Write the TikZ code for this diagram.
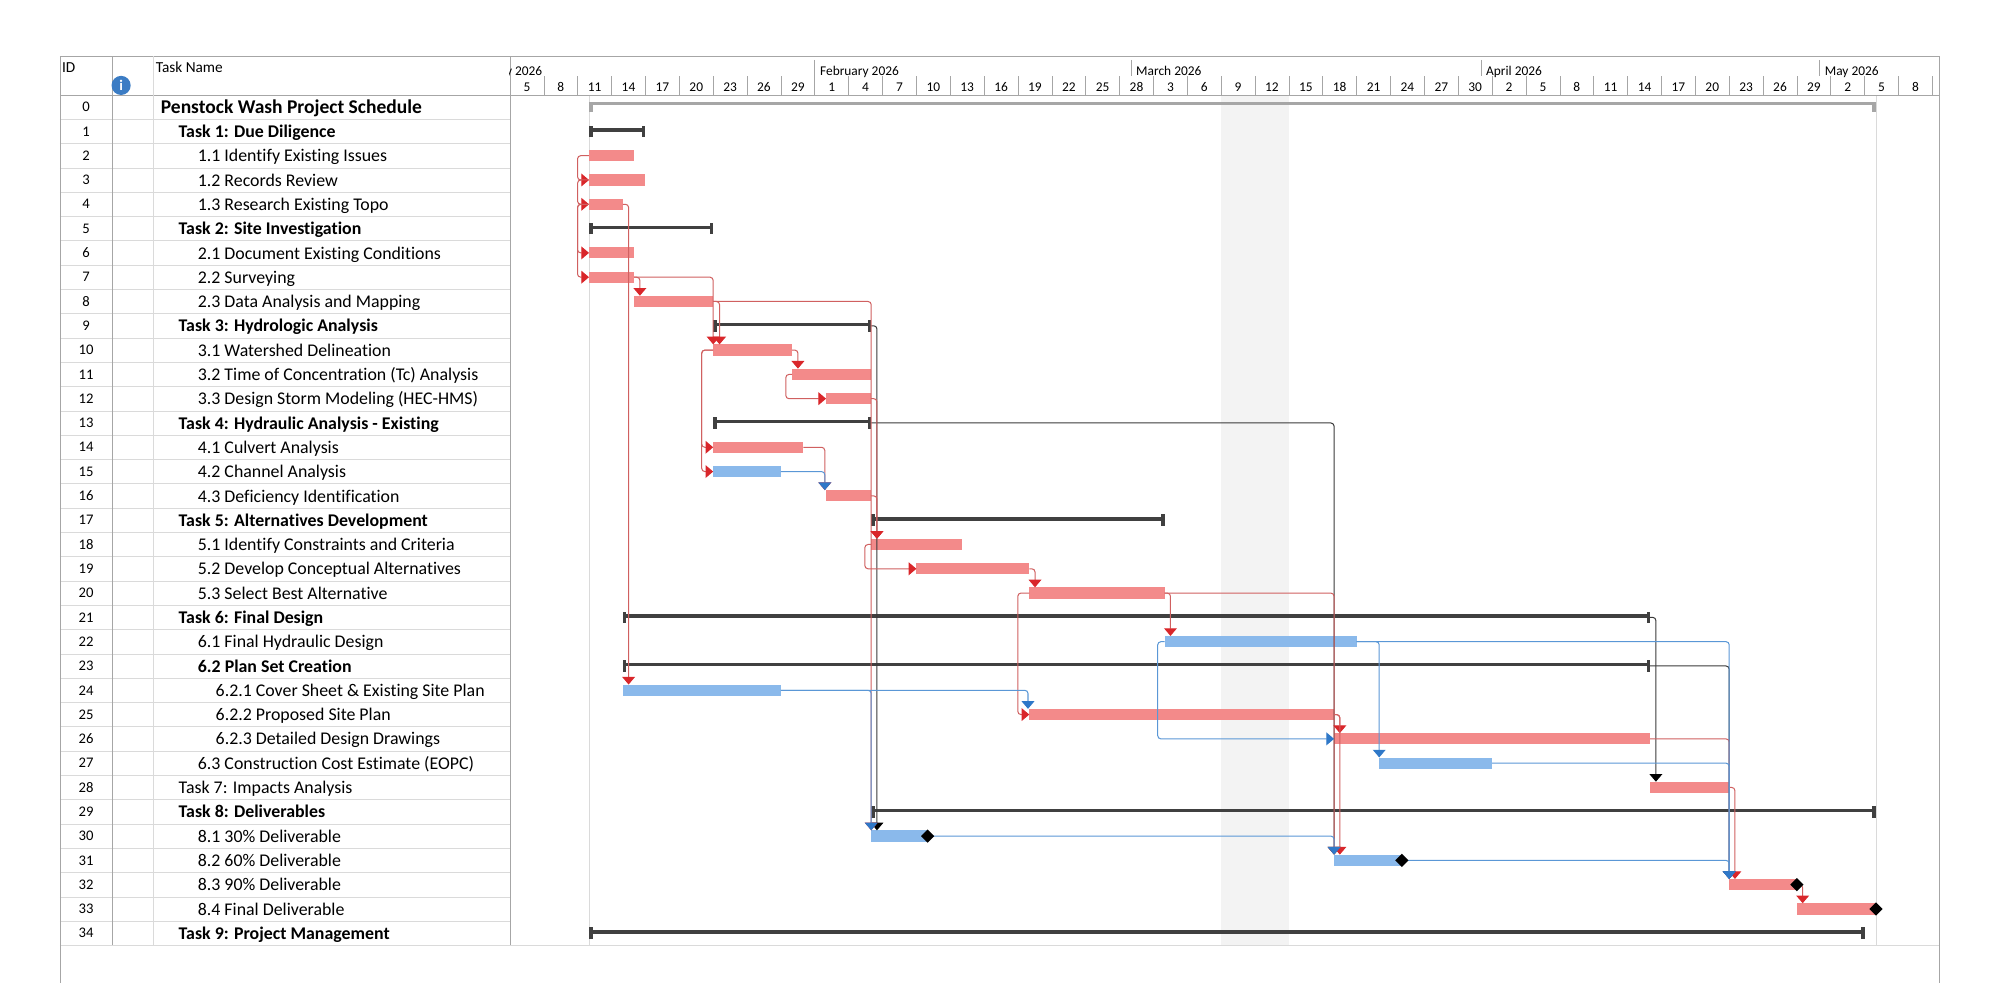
\documentclass[tikz,border=0pt]{standalone}
\usepackage{fontspec}
\setmainfont{Carlito}[Ligatures=NoCommon]
\usetikzlibrary{calc,arrows.meta}

\definecolor{barred}{HTML}{F38A8A}
\definecolor{barblue}{HTML}{8AB9EB}
\definecolor{sumgray}{HTML}{404040}
\definecolor{projgray}{HTML}{A6A6A6}
\definecolor{linkred}{HTML}{D06060}
\definecolor{tipred}{HTML}{D9262A}
\definecolor{linkblue}{HTML}{5A97D6}
\definecolor{tipblue}{HTML}{2F78C8}
\definecolor{linkblack}{HTML}{3A3A3A}
\definecolor{gridgray}{HTML}{DADADA}
\definecolor{framegray}{HTML}{A6A6A6}
\definecolor{offday}{HTML}{F3F3F3}
\definecolor{infoblue}{HTML}{3B7CC4}

\newcommand\gtask{\fontsize{14}{16}\selectfont}
\newcommand\gsum{\fontsize{14}{16}\selectfont\bfseries}
\newcommand\gproj{\fontsize{15.3}{17}\selectfont\bfseries}
\newcommand\ghead{\fontsize{12}{14}\selectfont}
\newcommand\gscale{\fontsize{10.5}{12}\selectfont}
\newcommand\gid{\fontsize{11.5}{13}\selectfont}

% bars: row, start day, end day (day 0 = Jan 12)
\newcommand{\taskbar}[4]{%
  \coordinate (s#1) at ({462+8.855*#2},{84+19.06*#1});
  \coordinate (e#1) at ({462+8.855*#3},{84+19.06*#1});
  \fill[#4] ($(s#1)+(0,-4.4)$) rectangle ($(e#1)+(0,4.4)$);
}
\newcommand{\sumbar}[3]{%
  \coordinate (s#1) at ({462+8.855*#2},{84+19.06*#1});
  \coordinate (e#1) at ({462+8.855*#3},{84+19.06*#1});
  \draw[sumgray, line width=2.8pt] ($(s#1)+(0,-1)$) -- ($(e#1)+(0,-1)$);
  \fill[sumgray] ($(s#1)+(0,-4.6)$) rectangle ($(s#1)+(2.8,4.6)$);
  \fill[sumgray] ($(e#1)+(-2.8,-4.6)$) rectangle ($(e#1)+(0,4.6)$);
}
\newcommand{\mstone}[1]{%
  \fill[black] ($(e#1)+(-5.2,0)$) -- ($(e#1)+(0,-5.2)$) -- ($(e#1)+(5.2,0)$) -- ($(e#1)+(0,5.2)$) -- cycle;
}

\begin{document}
\begin{tikzpicture}[x=1pt,y=-1pt,
    link/.style={line width=0.8pt, rounded corners=2.5pt},
    redlink/.style={link, draw=linkred, -{Triangle[length=6pt,width=10pt,color=tipred]}},
    bluelink/.style={link, draw=linkblue, -{Triangle[length=6pt,width=10pt,color=tipblue]}},
    blacklink/.style={link, draw=linkblack, -{Triangle[length=6pt,width=10pt,color=black]}},
    idlab/.style={font=\gid, inner sep=0},
    namelab/.style={anchor=base west, inner sep=0},
    hdrlab/.style={font=\ghead, anchor=base west, inner sep=0},
    daylab/.style={font=\gscale, anchor=base, inner sep=0},
    monlab/.style={font=\gscale, anchor=base west, inner sep=0},
    hdrline/.style={framegray, line width=0.5pt}]

\useasboundingbox (0,0) rectangle (1568,771);

% chart background
\fill[offday] ({462+8.855*56},75) rectangle ({462+8.855*62},742);
\draw[gridgray, line width=0.7pt] (462,75) -- (462,742);
\draw[gridgray, line width=0.7pt] ({462+8.855*114},75) -- ({462+8.855*114},742);

% table grid
\foreach \i in {1,...,34}
  \draw[gridgray, line width=0.5pt] (47,{74.5+19.06*\i}) -- (400,{74.5+19.06*\i});
\draw[gridgray, line width=0.5pt] (47,741.6) -- (1521,741.6);
\draw[hdrline] (47,75) -- (1521,75);
\draw[hdrline] (47,44) -- (1521,44);
\draw[hdrline] (47,44) -- (47,771);
\draw[hdrline] (1521,44) -- (1521,771);
\draw[hdrline] (88,44) -- (88,741.6);
\draw[gridgray, line width=0.5pt] (120,44) -- (120,741.6);
\draw[hdrline] (400,44) -- (400,741.6);

% table header
\node[hdrlab] (hid) at (48.5,57) {ID};
\node[hdrlab] (hname) at (122,57) {Task Name};
\node[circle, fill=infoblue, minimum size=15pt, inner sep=0, text=white,
      font=\fontsize{11.5}{11.5}\selectfont\bfseries] (info) at (95,67) {i};

% timescale
\begin{scope}
  \clip (400,44) rectangle (1521,75);
  \foreach \lab [count=\k from 0] in {5,8,11,14,17,20,23,26,29,1,4,7,10,13,16,19,22,25,28,3,6,9,12,15,18,21,24,27,30,2,5,8,11,14,17,20,23,26,29,2,5,8}
    \node[daylab] (d\k) at ({413.3+26.565*\k},72) {\lab};
  \foreach \k in {0,...,41}
    \draw[hdrline] ({426.58+26.565*\k},60) -- ++(0,15);
  \foreach \d/\mon in {-11/January 2026,20/February 2026,48/March 2026,79/April 2026,109/May 2026} {
    \draw[hdrline] ({462+8.855*\d},47) -- ({462+8.855*\d},60);
    \node[monlab] at ({462+8.855*\d+4},59) {\mon};
  }
\end{scope}

% task names
\foreach \r/\ind/\fnt/\txt in {
  0/126/\gproj/Penstock Wash Project Schedule,
  1/140/\gsum/Task 1: Due Diligence,
  2/155/\gtask/1.1 Identify Existing Issues,
  3/155/\gtask/1.2 Records Review,
  4/155/\gtask/1.3 Research Existing Topo,
  5/140/\gsum/Task 2: Site Investigation,
  6/155/\gtask/2.1 Document Existing Conditions,
  7/155/\gtask/2.2 Surveying,
  8/155/\gtask/2.3 Data Analysis and Mapping,
  9/140/\gsum/Task 3: Hydrologic Analysis,
  10/155/\gtask/3.1 Watershed Delineation,
  11/155/\gtask/3.2 Time of Concentration (Tc) Analysis,
  12/155/\gtask/3.3 Design Storm Modeling (HEC-HMS),
  13/140/\gsum/Task 4: Hydraulic Analysis - Existing,
  14/155/\gtask/4.1 Culvert Analysis,
  15/155/\gtask/4.2 Channel Analysis,
  16/155/\gtask/4.3 Deficiency Identification,
  17/140/\gsum/Task 5: Alternatives Development,
  18/155/\gtask/5.1 Identify Constraints and Criteria,
  19/155/\gtask/5.2 Develop Conceptual Alternatives,
  20/155/\gtask/5.3 Select Best Alternative,
  21/140/\gsum/Task 6: Final Design,
  22/155/\gtask/6.1 Final Hydraulic Design,
  23/155/\gsum/6.2 Plan Set Creation,
  24/169/\gtask/6.2.1 Cover Sheet \& Existing Site Plan,
  25/169/\gtask/6.2.2 Proposed Site Plan,
  26/169/\gtask/6.2.3 Detailed Design Drawings,
  27/155/\gtask/6.3 Construction Cost Estimate (EOPC),
  28/140/\gtask/Task 7: Impacts Analysis,
  29/140/\gsum/Task 8: Deliverables,
  30/155/\gtask/8.1 30\% Deliverable,
  31/155/\gtask/8.2 60\% Deliverable,
  32/155/\gtask/8.3 90\% Deliverable,
  33/155/\gtask/8.4 Final Deliverable,
  34/140/\gsum/Task 9: Project Management} {
  \node[idlab] (id\r) at (67.5,{84+19.06*\r}) {\r};
  \node[namelab, font=\fnt] (n\r) at (\ind,{84+19.06*\r+4.8}) {\txt};
}

% project summary
\coordinate (s0) at (462,84);
\coordinate (e0) at ({462+8.855*114},84);
\draw[projgray, line width=2.4pt] ($(s0)+(0,-2.5)$) -- ($(e0)+(0,-2.5)$);
\fill[projgray] ($(s0)+(0,-4.3)$) rectangle ($(s0)+(2.8,3.8)$);
\fill[projgray] ($(e0)+(-2.8,-4.3)$) rectangle ($(e0)+(0,3.8)$);

% bars
\sumbar{1}{0}{5}
\taskbar{2}{0}{4}{barred}
\taskbar{3}{0}{5}{barred}
\taskbar{4}{0}{3}{barred}
\sumbar{5}{0}{11}
\taskbar{6}{0}{4}{barred}
\taskbar{7}{0}{4}{barred}
\taskbar{8}{4}{11}{barred}
\sumbar{9}{11}{25}
\taskbar{10}{11}{18}{barred}
\taskbar{11}{18}{25}{barred}
\taskbar{12}{21}{25}{barred}
\sumbar{13}{11}{25}
\taskbar{14}{11}{19}{barred}
\taskbar{15}{11}{17}{barblue}
\taskbar{16}{21}{25}{barred}
\sumbar{17}{25}{51}
\taskbar{18}{25}{33}{barred}
\taskbar{19}{29}{39}{barred}
\taskbar{20}{39}{51}{barred}
\sumbar{21}{3}{94}
\taskbar{22}{51}{68}{barblue}
\sumbar{23}{3}{94}
\taskbar{24}{3}{17}{barblue}
\taskbar{25}{39}{66}{barred}
\taskbar{26}{66}{94}{barred}
\taskbar{27}{70}{80}{barblue}
\taskbar{28}{94}{101}{barred}
\sumbar{29}{25}{114}
\taskbar{30}{25}{30}{barblue}
\taskbar{31}{66}{72}{barblue}
\taskbar{32}{101}{107}{barred}
\taskbar{33}{107}{114}{barred}
\sumbar{34}{0}{113}

% links between summaries
\draw[blacklink] (e9) -| ($(s30)+(4.5,-4.5)$);
\draw[blacklink] (e13) -| ($(s31)+(0,-4.5)$);
\draw[blacklink] (e21) -| ($(e21 |- s28)+(4.5,-4.5)$);
\draw[blacklink] (e23) -| ($(s32)+(0,-4.5)$);

% critical links
\draw[redlink] (s2) -- ++(-9,0) |- (s3);
\draw[redlink] (s3) -- ++(-9,0) |- (s4);
\draw[redlink] (s4) -- ++(-9,0) |- (s6);
\draw[redlink] (s4) -- ++(-9,0) |- (s7);
\draw[redlink] (e4) -| ($(e4 |- s24)+(4.5,-4.5)$);
\draw[redlink] (e7) -| ($(e7 |- s8)+(4.5,-4.5)$);
\draw[redlink] (e7) -| ($(s10)+(0,-4.5)$);
\draw[redlink] (e8) -| ($(s10)+(5,-4.5)$);
\draw[redlink] (e8) -| ($(s30)+(0,-4.5)$);
\draw[redlink] (e10) -| ($(e10 |- s11)+(4.5,-4.5)$);
\draw[redlink] (s11) -- ++(-5,0) |- (s12);
\draw[redlink] (s10) -- ++(-9,0) |- (s14);
\draw[redlink] (s10) -- ++(-9,0) |- (s15);
\draw[redlink] (e14) -| ($(s16)+(-1,-4.5)$);
\draw[redlink] (e12) -| ($(s18)+(4.5,-4.5)$);
\draw[redlink] (e16) -| ($(s18)+(4.5,-4.5)$);
\draw[redlink] (s18) -- ++(-5,0) |- (s19);
\draw[redlink] (e19) -| ($(e19 |- s20)+(4.5,-4.5)$);
\draw[redlink] (e20) -| ($(e20 |- s22)+(4.5,-4.5)$);
\draw[redlink] (e20) -| ($(s31)+(0,-4.5)$);
\draw[redlink] (s20) -- ++(-9,0) |- (s25);
\draw[redlink] (e25) -| ($(e25 |- s26)+(4.5,-4.5)$);
\draw[redlink] (e25) -| ($(e25 |- s31)+(4.5,-4.5)$);
\draw[redlink] (e26) -| ($(s32)+(0,-4.5)$);
\draw[redlink] (e28) -| ($(e28 |- s32)+(4.5,-4.5)$);
\draw[redlink] (e32) -| ($(e32 |- s33)+(4.5,-4.5)$);

% other links
\draw[bluelink] (e15) -| ($(s16)+(-1,-4.5)$);
\draw[bluelink] (e24) -| ($(s30)+(0,-4.5)$);
\draw[bluelink] (e24) -| ($(s25)+(-1,-4.5)$);
\draw[bluelink] (s22) -- ++(-5.5,0) |- (s26);
\draw[bluelink] (e22) -| ($(s27)+(0,-4.5)$);
\draw[bluelink] (e22) -| ($(s32)+(0,-4.5)$);
\draw[bluelink] (e27) -| ($(s32)+(0,-4.5)$);
\draw[bluelink] (e30) -| ($(s31)+(0,-4.5)$);
\draw[bluelink] (e31) -| ($(s32)+(0,-4.5)$);

% milestones
\mstone{30}
\mstone{31}
\mstone{32}
\mstone{33}
\end{tikzpicture}
\end{document}
